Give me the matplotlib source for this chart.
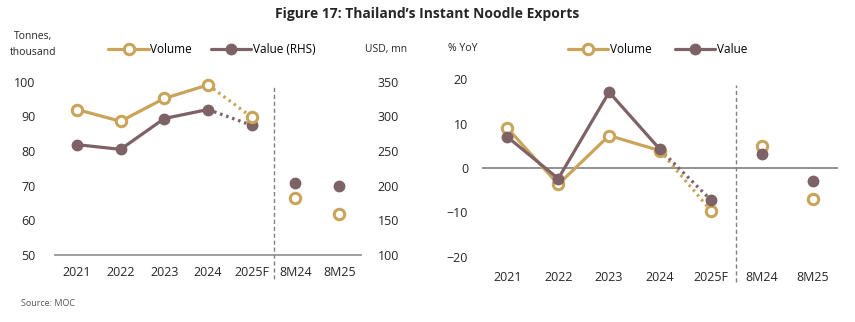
import matplotlib
matplotlib.use("Agg")
import matplotlib.pyplot as plt

plt.rcParams['font.family'] = ['Open Sans', 'DejaVu Sans']

categories = ['2021', '2022', '2023', '2024', '2025F', '8M24', '8M25']

# level chart
volume = [92.0, 88.6, 95.2, 99.1, 89.8, 66.4, 61.7]      # tonnes, thousand
value = [259.3, 252.5, 297.0, 310.0, 287.3, 204.2, 198.9]  # USD mn (RHS)

# growth chart (% YoY)
volume_yoy = [9.0, -3.7, 7.3, 3.9, -9.6, 4.9, -7.1]
value_yoy = [7.0, -2.4, 17.1, 4.2, -7.2, 3.2, -3.0]

gold = '#C9A45A'
mauve = '#7D6266'
txt = '#262626'
lw = 2.3
ms = 7.5

fig = plt.figure(figsize=(8.55, 3.22), dpi=100)
fig.text(0.5, 0.955, 'Figure 17: Thailand\u2019s Instant Noodle Exports',
         ha='center', va='center', fontsize=10, fontweight='bold', color=txt)
fig.text(0.024, 0.058, 'Source: MOC', fontsize=6.5, color='#555555', va='center')

x = list(range(len(categories)))


def draw(ax, ys, color, hollow, label):
    mfc = 'white' if hollow else color
    mkw = dict(marker='o', markersize=ms, markerfacecolor=mfc,
               markeredgecolor=color, markeredgewidth=2.2 if hollow else 1)
    line, = ax.plot(x[:4], ys[:4], color=color, lw=lw, label=label,
                    solid_capstyle='round', zorder=3, clip_on=False, **mkw)
    ax.plot(x[3:5], ys[3:5], color=color, lw=lw, ls=(0, (0.8, 1.2)), zorder=2)
    ax.plot(x[4:], ys[4:], ls='none', zorder=3, clip_on=False, **mkw)
    return line


def style(ax):
    for s in ax.spines.values():
        s.set_visible(False)
    ax.tick_params(length=0, labelsize=9, colors=txt, pad=8)
    ax.set_xticks(x)
    ax.set_xticklabels(categories)
    ax.set_xlim(-0.5, 6.5)
    ax.axvline(4.5, ymin=-0.14, ymax=0.97, color='#808080', lw=1,
               ls=(0, (3, 2)), clip_on=False)


# left panel
ax1 = fig.add_axes([0.0643, 0.208, 0.358, 0.538])
ax1.set_facecolor('none')
ax2 = ax1.twinx()
style(ax1)
for s in ax2.spines.values():
    s.set_visible(False)
ax1.axhline(50, color='#8c8c8c', lw=1.2, clip_on=False)
ax1.set_ylim(50, 100)
ax1.set_yticks([50, 60, 70, 80, 90, 100])
ax1.tick_params(axis='y', pad=14)
ax2.set_ylim(100, 350)
ax2.set_yticks([100, 150, 200, 250, 300, 350])
ax2.tick_params(length=0, labelsize=9, colors=txt, pad=12)
ax1.set_zorder(ax2.get_zorder() + 1)
l1 = draw(ax1, volume, gold, True, 'Volume')
l2 = draw(ax2, value, mauve, False, 'Value (RHS)')
fig.legend([l1, l2], ['Volume', 'Value (RHS)'], loc='center',
           bbox_to_anchor=(0.248, 0.845), ncol=2, frameon=False, fontsize=8.5,
           handlelength=3.4, columnspacing=1.6, handletextpad=0.15)
fig.text(0.039, 0.862, 'Tonnes,\nthousand', ha='center', va='center',
         fontsize=7.5, color=txt, linespacing=1.7)
fig.text(0.452, 0.845, 'USD, mn', ha='center', va='center', fontsize=7.5, color=txt)

# right panel
ax3 = fig.add_axes([0.5637, 0.2028, 0.4164, 0.551])
style(ax3)
ax3.axhline(0, color='#7f7f7f', lw=1.2, zorder=1)
ax3.set_ylim(-20, 20)
ax3.set_yticks([-20, -10, 0, 10, 20])
ax3.tick_params(axis='y', pad=10)
ax3.tick_params(axis='x', pad=10)
r1 = draw(ax3, volume_yoy, gold, True, 'Volume')
r2 = draw(ax3, value_yoy, mauve, False, 'Value')
fig.legend([r1, r2], ['Volume', 'Value'], loc='center',
           bbox_to_anchor=(0.769, 0.845), ncol=2, frameon=False, fontsize=8.5,
           handlelength=3.4, columnspacing=2.0, handletextpad=0.15)
fig.text(0.541, 0.848, '% YoY', ha='center', va='center', fontsize=7.5, color=txt)

fig.savefig('out.png', dpi=100)
